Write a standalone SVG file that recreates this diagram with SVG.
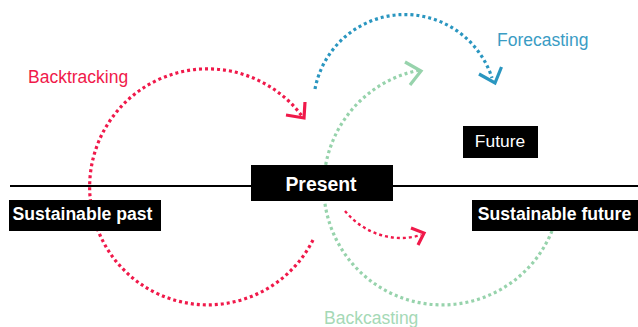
<svg xmlns="http://www.w3.org/2000/svg" width="638" height="327" viewBox="0 0 638 327">
<style>
.arc{fill:none;stroke-width:3.2;stroke-dasharray:3 3}
.thin{stroke-width:2.4}
.head{fill:none;stroke-width:3.2}
.red{stroke:#f0194a}.blue{stroke:#2a96c0}.green{stroke:#97d3ac}
.box{fill:#000}
text{font-family:"Liberation Sans",Arial,sans-serif}
.b{fill:#fff;font-weight:bold;text-anchor:middle;font-size:17.600px}
.l{font-size:17.500px}
</style>
<rect width="638" height="327" fill="#fff"/>
<g id="connectors">
<line x1="10" y1="186" x2="638" y2="186" stroke="#000" stroke-width="2"/>
<path class="arc red" d="M313 240A118 118 0 1 1 302 116"/>
<path class="head red" d="M305 102L304 118L286 115"/>
<path class="arc blue" d="M315 89A91.500 91.500 0 0 1 492 78"/>
<path class="head blue" d="M501.500 67L495 83L479 74"/>
<path class="arc green" d="M552 231A118.500 118.500 0 1 1 420 70"/>
<path class="head green" d="M405 62L421 71L410 85"/>
<path class="arc red thin" d="M345 211C365 235 395 243 421 235"/>
<path class="head red" d="M411 228L424 233L418 245"/>
</g>
<g id="present"><rect class="box" x="251" y="165" width="142" height="36"/><text class="b" x="321" y="191" style="font-size:19.400px">Present</text></g>
<g id="future"><rect class="box" x="463" y="126" width="75" height="32"/><text x="500" y="147" fill="#fff" text-anchor="middle" font-size="17.400">Future</text></g>
<g id="sustainable-past"><rect class="box" x="9" y="200" width="152" height="31"/><text class="b" x="82.500" y="220">Sustainable past</text></g>
<g id="sustainable-future"><rect class="box" x="472" y="200" width="166" height="31"/><text class="b" x="554.500" y="220">Sustainable future</text></g>
<g id="backtracking"><text class="l" x="28" y="83" fill="#f0194a">Backtracking</text></g>
<g id="forecasting"><text class="l" x="497" y="45.500" fill="#3a9cc4">Forecasting</text></g>
<g id="backcasting"><text class="l" x="324" y="324" fill="#a5d9b6">Backcasting</text></g>
</svg>
